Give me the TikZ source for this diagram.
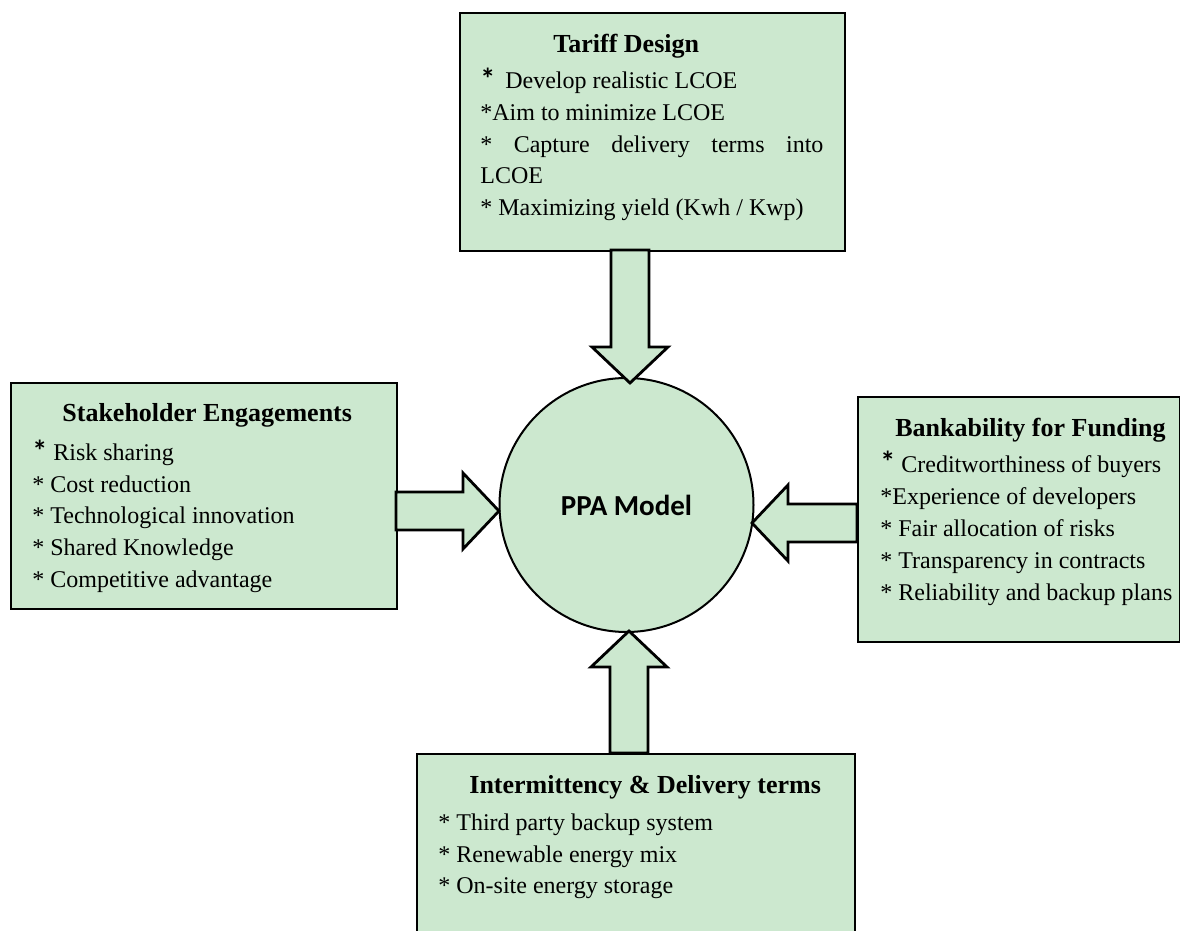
\documentclass[tikz,border=0pt]{standalone}
\usepackage{fontspec}
\setmainfont{Liberation Serif}
\newfontfamily\carlito{Carlito}
\usetikzlibrary{calc}
\definecolor{boxgreen}{RGB}{204,232,207}
\tikzset{
  box/.style={draw=black, line width=1pt, fill=boxgreen, inner sep=0pt, anchor=north west},
  ttl/.style={anchor=base west, inner sep=0pt, font=\fontsize{13pt}{16pt}\selectfont\bfseries},
  itm/.style={anchor=base west, inner sep=0pt, font=\fontsize{12pt}{16pt}\selectfont},
  hub/.style={draw=black, line width=1pt, fill=boxgreen, circle, inner sep=0pt, minimum size=127pt,
    font=\carlito\fontsize{14.5pt}{17pt}\selectfont\bfseries},
  blockarrow/.style={draw=black, line width=1.4pt, fill=boxgreen, line join=miter},
}
\newcommand\blockarr[2]{%
  \coordinate (hb) at ($(#2)!18pt!(#1)$);
  \draw[blockarrow] ($(#1)!9.5pt!90:(#2)$) -- ($(hb)!9.5pt!90:(#2)$) -- ($(hb)!19pt!90:(#2)$)
    -- (#2) -- ($(hb)!19pt!-90:(#2)$) -- ($(hb)!9.5pt!-90:(#2)$) -- ($(#1)!9.5pt!-90:(#2)$) -- cycle;
}
\newcommand\bigast{\raisebox{-0.5pt}{\carlito\bfseries\fontsize{15pt}{16pt}\selectfont *}}
\begin{document}
\begin{tikzpicture}[x=0.5pt, y=-0.5pt]
\useasboundingbox (0,0) rectangle (1180,931);

% boxes
\node[box, minimum width=192.5pt, minimum height=119pt] (tariff) at (459,12) {};
\node[box, minimum width=193pt, minimum height=113pt] (stake) at (10,382) {};
\node[box, minimum width=161pt, minimum height=122.5pt] (bank) at (857,396) {};
\node[box, minimum width=219pt, minimum height=100pt] (inter) at (416,753) {};
\node[hub] (ppa) at (626.5,505) {PPA Model};

% Tariff Design
\node[ttl] (t0) at (553,53) {Tariff Design};
\node[itm] (t1) at (480,89) {\bigast\ \,Develop realistic LCOE};
\node[itm] (t2) at (480,121) {*Aim to minimize LCOE};
\node[itm] (t3) at (480,153) {\hbox to 171.5pt{*\hfill Capture\hfill delivery\hfill terms\hfill into}};
\node[itm] (t4) at (480,184) {LCOE};
\node[itm] (t5) at (480,216) {* Maximizing yield (Kwh / Kwp)};

% Stakeholder Engagements
\node[ttl] (s0) at (62,422) {Stakeholder Engagements};
\node[itm] (s1) at (32,460) {\bigast\ Risk sharing};
\node[itm] (s2) at (32,492) {* Cost reduction};
\node[itm] (s3) at (32,523) {* Technological innovation};
\node[itm] (s4) at (32,555) {* Shared Knowledge};
\node[itm] (s5) at (32,587) {* Competitive advantage};

% Bankability for Funding
\node[ttl] (b0) at (895,437) {Bankability for Funding};
\node[itm] (b1) at (880,472) {\bigast\ Creditworthiness of buyers};
\node[itm] (b2) at (880,504) {*Experience of developers};
\node[itm] (b3) at (880,536) {* Fair allocation of risks};
\node[itm] (b4) at (880,568) {* Transparency in contracts};
\node[itm] (b5) at (880,600) {* Reliability and backup plans};

% Intermittency & Delivery terms
\node[ttl] (i0) at (469,793) {Intermittency \& Delivery terms};
\node[itm] (i1) at (438,830) {* Third party backup system};
\node[itm] (i2) at (438,862) {* Renewable energy mix};
\node[itm] (i3) at (438,893) {* On-site energy storage};

% arrows
\coordinate (ta) at (630,250);  \coordinate (tb) at (630,383);
\coordinate (la) at (396,511);  \coordinate (lb) at (499,511);
\coordinate (ra) at (857,523);  \coordinate (rb) at (752,523);
\coordinate (ba) at (629,753);  \coordinate (bb) at (629,631);
\blockarr{ta}{tb}
\blockarr{la}{lb}
\blockarr{ra}{rb}
\blockarr{ba}{bb}
\end{tikzpicture}
\end{document}
